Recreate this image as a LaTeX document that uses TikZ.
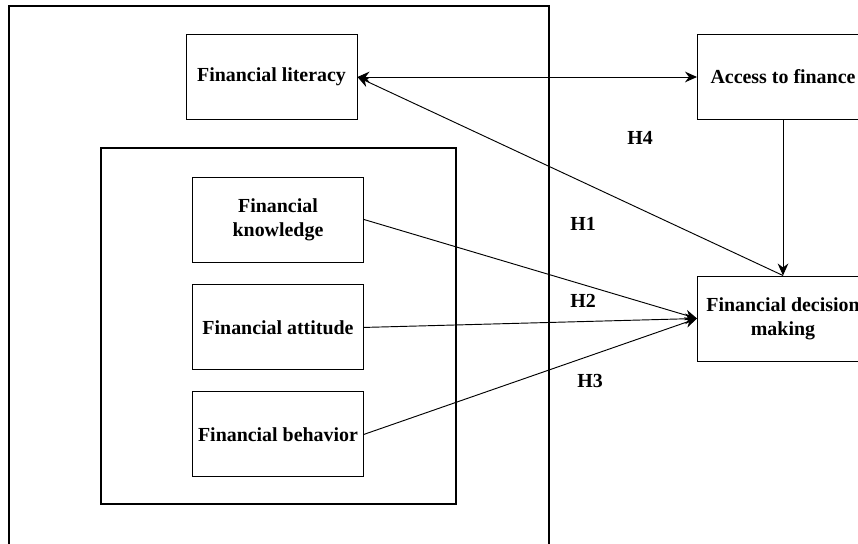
\documentclass[tikz,border=0pt]{standalone}
\usepackage{fontspec}
\setmainfont{Liberation Serif}
\usepackage{tikz}
\usetikzlibrary{arrows.meta,positioning}
\tikzset{
  box/.style={draw, line width=0.8pt, align=center, inner sep=2pt,
              font=\bfseries\fontsize{17}{20.4}\selectfont,
              minimum width=5.13cm, minimum height=2.55cm},
  frame/.style={draw, line width=0.9pt},
  hyp/.style={font=\bfseries\fontsize{17}{20.4}\selectfont, inner sep=1pt},
  flow/.style={-{Stealth[length=3.6mm, width=3.2mm]}, line width=0.8pt},
  biflow/.style={{Stealth[length=3.6mm, width=3.2mm]}-{Stealth[length=3.6mm, width=3.2mm]}, line width=0.8pt},
}

\begin{document}
\begin{tikzpicture}[x=0.03cm, y=-0.03cm, node distance=0.66cm]
\useasboundingbox (0,0) rectangle (858,544);
\clip (0,0) rectangle (858,544);
% frames
\draw[frame] (9,6) rectangle (549,620);
\draw[frame] (101,148) rectangle (456,504);
% left side
\node[box] (lit) at (271.5,77) {Financial literacy};
\node[box] (know) at (278,219.5) {Financial\\knowledge};
\node[box, below=of know] (att) {Financial attitude};
\node[box, below=0.63cm of att] (beh) {Financial behavior};
% right side
\node[box] (acc) at (783,77) {Access to finance};
\node[box] (dec) at (783,318.5) {Financial decision\\making};
% hypotheses
\node[hyp] (h4) at (640,138) {H4};
\node[hyp] (h1) at (583,224) {H1};
\node[hyp] (h2) at (583,301) {H2};
\node[hyp] (h3) at (590,381) {H3};
\draw[biflow] (lit) -- (acc);
\draw[flow] (acc) -- (dec);
\draw[flow] (dec.north) -- (lit.east);
\draw[flow] (know.east) -- (dec.west);
\draw[flow] (att.east) -- (dec.west);
\draw[flow] (beh.east) -- (dec.west);
\end{tikzpicture}
\end{document}
